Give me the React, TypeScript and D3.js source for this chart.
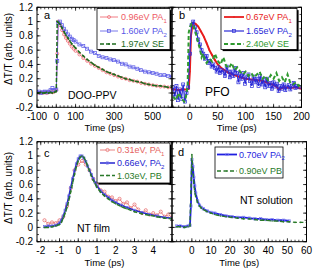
import React from 'react';
import * as d3 from 'd3';

const FONT = "'Liberation Sans', Arial, Helvetica, sans-serif";

// ---------- Panel a: DOO-PPV ----------
const aTime = [-100,-90,-80,-70,-60,-50,-40,-30,-20,-10,0,5,10,20,30,40,50,60,70,80,90,100,120,140,160,180,200,220,240,260,280,300,320,340,360,380,400,420,440,460,480,500,520,540,560,580,600];
const aRed = [0.01,0.0,0.01,0.0,0.01,0.0,0.01,0.02,0.01,0.02,0.04,0.55,1.0,0.95,0.88,0.82,0.77,0.73,0.69,0.65,0.62,0.59,0.54,0.49,0.45,0.41,0.38,0.35,0.32,0.29,0.27,0.25,0.23,0.21,0.2,0.18,0.17,0.16,0.14,0.13,0.12,0.11,0.1,0.09,0.09,0.08,0.07];
const aGreen = [0.0,0.0,0.01,0.0,0.0,0.01,0.0,0.01,0.0,0.01,0.02,1.0,0.99,0.96,0.91,0.86,0.81,0.77,0.73,0.69,0.66,0.63,0.57,0.52,0.47,0.43,0.39,0.36,0.33,0.3,0.28,0.26,0.24,0.22,0.2,0.19,0.17,0.16,0.15,0.13,0.12,0.11,0.1,0.1,0.09,0.08,0.08];
const aBlue = [0.01,0.02,0.0,0.01,0.02,0.01,0.02,0.04,0.07,0.04,0.05,0.45,0.98,1.0,0.95,0.9,0.86,0.82,0.79,0.76,0.74,0.72,0.68,0.66,0.62,0.58,0.56,0.52,0.5,0.49,0.47,0.46,0.44,0.41,0.4,0.37,0.36,0.34,0.32,0.3,0.29,0.28,0.27,0.25,0.25,0.24,0.23];

// ---------- Panel b: PFO ----------
const bRedTime = [-30,-25,-20,-15,-10,-5,-2,0,2,5,10,15,20,25,30,35,40,45,50,55,60,70,80,90,100,110,120,130,140,150,155,160,165,170,180,190,200];
const bRed = [0.05,0.05,0.04,0.05,0.05,0.05,0.06,0.3,0.8,0.98,0.97,0.93,0.86,0.79,0.7,0.6,0.53,0.46,0.4,0.36,0.33,0.28,0.25,0.22,0.2,0.19,0.18,0.17,0.14,0.11,0.09,0.05,0.07,0.08,0.07,0.08,0.06];
const bBlueTime = [-30,-27,-24,-21,-18,-15,-12,-9,-6,-3,0,3,6,9,12,15,18,21,24,27,30,33,36,39,42,45,48,51,54,57,60,63,66,69,72,75,78,81,84,87,90,93,96,99,102,105,108,111,114,117,120,123,126,129,132,135,138,141,144,147,150,153,156,159,162,165,168,171,174,177,180,183,186,189,192,195];
const bBlue = [0.08,-0.05,0.1,-0.1,0.05,-0.08,0.12,-0.12,0.0,0.08,0.55,0.95,1.0,0.92,0.85,0.75,0.68,0.6,0.55,0.48,0.52,0.42,0.45,0.37,0.4,0.35,0.3,0.36,0.28,0.32,0.3,0.24,0.37,0.3,0.22,0.3,0.24,0.35,0.28,0.15,0.27,0.2,0.28,0.13,0.22,0.26,0.17,0.1,0.23,0.15,0.2,0.1,0.24,0.12,0.18,0.08,0.2,0.1,0.14,0.06,0.15,0.09,0.13,0.03,0.1,0.06,0.12,0.04,0.09,0.11,0.05,0.1,0.14,0.07,0.1,0.08];
const bGreenTime = [-30,-25,-20,-15,-10,-7,-4,-2,0,3,6,9,12,15,18,21,24,27,30,35,40,45,50,55,60,65,70,75,80,85,90,95,100,105,110,115,120,125,130,135,140,145,150,155,160,165,170,175,180,185,190,195,200];
const bGreen = [-0.05,-0.1,0.0,-0.08,-0.12,-0.05,0.1,0.85,0.92,0.97,0.95,0.88,0.8,0.7,0.62,0.5,0.55,0.46,0.42,0.48,0.44,0.55,0.45,0.4,0.5,0.38,0.35,0.42,0.32,0.36,0.3,0.26,0.3,0.24,0.28,0.22,0.26,0.3,0.2,0.24,0.18,0.25,0.2,0.28,0.17,0.22,0.15,0.26,0.14,0.12,0.15,0.1,0.12];

// ---------- Panel c: NT film ----------
const cTime = [-1.8,-1.6,-1.4,-1.2,-1.0,-0.9,-0.8,-0.7,-0.6,-0.5,-0.4,-0.3,-0.2,-0.1,0,0.1,0.2,0.3,0.4,0.5,0.6,0.7,0.8,0.9,1.0,1.2,1.4,1.6,1.8,2.0,2.3,2.6,3.0,3.4,3.8,4.2,4.6,5.0];
const cGreen = [0.0,0.0,0.01,0.02,0.04,0.07,0.13,0.2,0.28,0.38,0.5,0.62,0.74,0.85,0.93,0.98,1.0,0.98,0.93,0.86,0.79,0.72,0.66,0.61,0.56,0.49,0.44,0.4,0.36,0.33,0.29,0.26,0.22,0.19,0.17,0.15,0.13,0.12];
const cBlue = [0.01,0.02,0.02,0.03,0.06,0.1,0.16,0.24,0.33,0.44,0.56,0.68,0.79,0.89,0.96,1.0,1.0,0.97,0.92,0.86,0.8,0.74,0.68,0.63,0.58,0.51,0.46,0.42,0.38,0.35,0.31,0.28,0.24,0.21,0.18,0.16,0.14,0.13];
const cRedTime = [-1.8,-1.6,-1.4,-1.2,-1.0,-0.8,-0.6,-0.4,-0.2,0,0.2,0.4,0.6,0.8,1.0,1.2,1.4,1.6,1.8,2.0,2.2,2.4,2.6,2.8,3.0,3.2,3.4,3.6,3.8,4.0,4.2,4.4,4.6,4.8,5.0];
const cRed = [0.1,0.05,0.07,0.06,0.1,0.15,0.3,0.55,0.8,0.88,0.93,0.88,0.8,0.68,0.6,0.52,0.5,0.43,0.42,0.37,0.4,0.33,0.35,0.27,0.32,0.25,0.2,0.24,0.18,0.2,0.17,0.22,0.15,0.18,0.14];

// ---------- Panel d: NT solution ----------
const dBlueTime = [-8,-6,-4,-2,-1,-0.5,0,0.5,1,1.5,2,3,4,5,6,8,10,12,15,18,21,24,27,30,33,36,39,42,45,48,51];
const dBlue = [0.02,0.02,0.01,0.02,0.03,0.3,0.95,0.85,0.7,0.58,0.48,0.37,0.31,0.28,0.26,0.23,0.21,0.2,0.18,0.16,0.15,0.14,0.14,0.13,0.12,0.12,0.11,0.11,0.1,0.1,0.09];
const dGreenTime = [-8,-6,-4,-2,-1,-0.5,0,0.5,1,1.5,2,3,4,5,6,8,10,12,15,18,21,24,27,30,33,36,39,42,45,48,51,54,57,60];
const dGreen = [0.01,0.01,0.0,0.01,0.02,0.5,1.02,0.8,0.62,0.5,0.43,0.35,0.3,0.27,0.25,0.22,0.2,0.18,0.16,0.15,0.14,0.13,0.12,0.12,0.11,0.1,0.1,0.09,0.09,0.08,0.08,0.07,0.07,0.07];

// ---------- ticks ----------
const yDomain: [number, number] = [-0.2, 1.2];
const yMajor = [-0.2, 0, 0.2, 0.4, 0.6, 0.8, 1.0, 1.2];
const yLabels = ['-0.2', '0', '0.2', '0.4', '0.6', '0.8', '1', '1.2'];
const aXMajor = [-100, 0, 100, 200, 300, 400, 500, 600];
const aXLabels = ['-100', '0', '100', '', '300', '', '500', ''];
const bXMajor = [0, 50, 100, 150, 200];
const bXLabels = ['0', '50', '100', '150', '200'];
const cXMajor = [-2, -1, 0, 1, 2, 3, 4, 5];
const cXLabels = ['-2', '-1', '0', '1', '2', '3', '4', ''];
const dXMajor = [0, 10, 20, 30, 40, 50, 60];
const dXLabels = ['0', '10', '20', '30', '40', '50', '60'];

type Marker = 'circle' | 'square' | 'dot' | 'none';
type Series = { x: number[]; y: number[]; color: string; width: number; dash?: string; marker: Marker; ms?: number; mColor?: string };
type LegendEntry = { label: string; sub?: string; s: Series };

function MarkerShape({ m, cx, cy, color, ms }: { m: Marker; cx: number; cy: number; color: string; ms: number }) {
  if (m === 'circle') return <circle cx={cx} cy={cy} r={ms} fill="white" fillOpacity={0.4} stroke={color} strokeWidth={0.7} />;
  if (m === 'square') return <rect x={cx - ms} y={cy - ms} width={ms * 2} height={ms * 2} fill="none" stroke={color} strokeWidth={0.7} />;
  if (m === 'dot') return <circle cx={cx} cy={cy} r={ms} fill={color} />;
  return null;
}

type PanelProps = {
  id: string; x0: number; x1: number; y0: number; y1: number;
  xDomain: [number, number]; xMajor: number[]; xLabels: string[]; xMinor: number;
  showY: boolean; series: Series[]; letter: string; lx: number; ly: number;
};

function Panel(p: PanelProps) {
  const xs = d3.scaleLinear().domain(p.xDomain).range([p.x0, p.x1]);
  const ys = d3.scaleLinear().domain(yDomain).range([p.y1, p.y0]);
  const minorX = d3.range(Math.ceil(p.xDomain[0] / p.xMinor) * p.xMinor, p.xDomain[1] + 1e-9, p.xMinor);
  const minorY = d3.range(-0.2, 1.2001, 0.1);
  const M = 3.5, m = 2;
  const ticks: JSX.Element[] = [];
  minorX.forEach((v, i) => {
    const X = xs(v);
    ticks.push(<line key={'mxb' + i} x1={X} x2={X} y1={p.y1} y2={p.y1 - m} />);
    ticks.push(<line key={'mxt' + i} x1={X} x2={X} y1={p.y0} y2={p.y0 + m} />);
  });
  p.xMajor.forEach((v, i) => {
    const X = xs(v);
    ticks.push(<line key={'Mxb' + i} x1={X} x2={X} y1={p.y1} y2={p.y1 - M} />);
    ticks.push(<line key={'Mxt' + i} x1={X} x2={X} y1={p.y0} y2={p.y0 + M} />);
  });
  minorY.forEach((v, i) => {
    const Y = ys(v);
    ticks.push(<line key={'myl' + i} x1={p.x0} x2={p.x0 + m} y1={Y} y2={Y} />);
    ticks.push(<line key={'myr' + i} x1={p.x1} x2={p.x1 - m} y1={Y} y2={Y} />);
  });
  yMajor.forEach((v, i) => {
    const Y = ys(v);
    ticks.push(<line key={'Myl' + i} x1={p.x0} x2={p.x0 + M} y1={Y} y2={Y} />);
    ticks.push(<line key={'Myr' + i} x1={p.x1} x2={p.x1 - M} y1={Y} y2={Y} />);
  });
  const lineGen = (s: Series) =>
    d3.line<number>().x((_, i) => xs(s.x[i])).y((d) => ys(d))(s.y) || '';
  return (
    <g>
      <defs>
        <clipPath id={'clip' + p.id}>
          <rect x={p.x0} y={p.y0} width={p.x1 - p.x0} height={p.y1 - p.y0} />
        </clipPath>
      </defs>
      <g clipPath={`url(#clip${p.id})`}>
        {p.series.map((s, k) => (
          <g key={k}>
            <path d={lineGen(s)} fill="none" stroke={s.color} strokeWidth={s.width} strokeDasharray={s.dash} />
            {s.marker !== 'none' && s.y.map((v, i) => (
              <MarkerShape key={i} m={s.marker} cx={xs(s.x[i])} cy={ys(v)} color={s.mColor || s.color} ms={s.ms || 1.5} />
            ))}
          </g>
        ))}
      </g>
      <g stroke="#000" strokeWidth={0.7}>{ticks}</g>
      <rect x={p.x0} y={p.y0} width={p.x1 - p.x0} height={p.y1 - p.y0} fill="none" stroke="#000" strokeWidth={1} />
      <g fontFamily={FONT} fontSize={10} fill="#000" textAnchor="middle">
        {p.xMajor.map((v, i) => p.xLabels[i] ? (
          <text key={i} x={xs(v)} y={p.y1 + 12.5}>{p.xLabels[i]}</text>
        ) : null)}
      </g>
      {p.showY && (
        <g fontFamily={FONT} fontSize={10} fill="#000" textAnchor="end">
          {yMajor.map((v, i) => (
            <text key={i} x={p.x0 - 4} y={ys(v) + 3.5}>{yLabels[i]}</text>
          ))}
        </g>
      )}
      <text x={(p.x0 + p.x1) / 2} y={p.y1 + 24} fontFamily={FONT} fontSize={9.5} textAnchor="middle">Time (ps)</text>
      <text x={p.lx} y={p.ly} fontFamily={FONT} fontSize={11}>{p.letter}</text>
    </g>
  );
}

function Legend({ x, y, w, h, entries, rows, lineX0, lineX1, textX, shadow }: { x: number; y: number; w: number; h: number; entries: LegendEntry[]; rows: number[]; lineX0: number; lineX1: number; textX: number; shadow: boolean }) {
  return (
    <g>
      {shadow && <rect x={x + 1.6} y={y + 1.6} width={w} height={h} fill="#000" />}
      <rect x={x} y={y} width={w} height={h} fill="#fff" stroke="#000" strokeWidth={0.8} />
      {entries.map((e, i) => {
        const cy = rows[i];
        const mx = (lineX0 + lineX1) / 2;
        return (
          <g key={i}>
            <line x1={lineX0} x2={lineX1} y1={cy} y2={cy} stroke={e.s.color} strokeWidth={Math.min(e.s.width, 1.8)} strokeDasharray={e.s.dash} />
            <MarkerShape m={e.s.marker} cx={mx} cy={cy} color={e.s.mColor || e.s.color} ms={e.s.ms || 1.5} />
            <text x={textX} y={cy + 3.2} fontFamily={FONT} fontSize={9} fill={e.s.color}>
              {e.label}
              {e.sub && <tspan fontSize={6} dy={2.5}>{e.sub}</tspan>}
            </text>
          </g>
        );
      })}
    </g>
  );
}

export default function App() {
  const sa: Series[] = [
    { x: aTime, y: aRed, color: '#ee5a64', width: 0.8, marker: 'circle', ms: 1.5 },
    { x: aTime, y: aBlue, color: '#5656e6', width: 0.8, marker: 'square', ms: 1.5 },
    { x: aTime, y: aGreen, color: '#1d6b1d', width: 1.5, dash: '4,2', marker: 'dot', ms: 0.9 },
  ];
  const sb: Series[] = [
    { x: bRedTime, y: bRed, color: '#e81c1c', width: 2, marker: 'dot', ms: 0.8 },
    { x: bBlueTime, y: bBlue, color: '#2a2ad8', width: 1.2, marker: 'square', ms: 1.5 },
    { x: bGreenTime, y: bGreen, color: '#2f9a2f', width: 2, dash: '4,2.5', marker: 'none' },
  ];
  const sc: Series[] = [
    { x: cRedTime, y: cRed, color: '#e56262', width: 0.8, marker: 'circle', ms: 1.6 },
    { x: cTime, y: cBlue, color: '#2525d0', width: 1.5, marker: 'square', ms: 1.1, mColor: '#6a6ae8' },
    { x: cTime, y: cGreen, color: '#2a7a2a', width: 1.5, dash: '4,2', marker: 'dot', ms: 0.8 },
  ];
  const sd: Series[] = [
    { x: dBlueTime, y: dBlue, color: '#1f1fe0', width: 1.8, marker: 'square', ms: 1.2, mColor: '#8080f0' },
    { x: dGreenTime, y: dGreen, color: '#2a7a2a', width: 1.4, dash: '4,2.5', marker: 'dot', ms: 0.8 },
  ];
  return (
    <svg width={317} height={272} style={{ display: 'block', position: 'absolute', left: 0, top: 0, background: '#fff' }}>
      <rect width={317} height={272} fill="#fff" />
      <Panel id="a" x0={37} x1={172} y0={7.3} y1={107.3} xDomain={[-100, 600]} xMajor={aXMajor} xLabels={aXLabels} xMinor={20} showY series={sa} letter="a" lx={44} ly={19} />
      <Panel id="b" x0={172} x1={301.5} y0={7.3} y1={107.3} xDomain={[-32, 200]} xMajor={bXMajor} xLabels={bXLabels} xMinor={10} showY={false} series={sb} letter="b" lx={179} ly={19} />
      <Panel id="c" x0={37} x1={172} y0={141.7} y1={241.7} xDomain={[-2.2, 5]} xMajor={cXMajor} xLabels={cXLabels} xMinor={0.2} showY series={sc} letter="c" lx={44} ly={157} />
      <Panel id="d" x0={172} x1={306.5} y0={141.7} y1={241.7} xDomain={[-10.4, 60]} xMajor={dXMajor} xLabels={dXLabels} xMinor={2} showY={false} series={sd} letter="d" lx={178} ly={156} />

      <text transform="translate(12,49) rotate(-90)" fontFamily={FONT} fontSize={10} textAnchor="middle">ΔT/T (arb. units)</text>
      <text transform="translate(12,188) rotate(-90)" fontFamily={FONT} fontSize={10} textAnchor="middle">ΔT/T (arb. units)</text>

      <text x={68} y={99} fontFamily={FONT} fontSize={10.5}>DOO-PPV</text>
      <text x={205} y={96} fontFamily={FONT} fontSize={12}>PFO</text>
      <text x={77} y={232} fontFamily={FONT} fontSize={10.5}>NT film</text>
      <text x={240} y={204} fontFamily={FONT} fontSize={10.5}>NT solution</text>

      <Legend x={97} y={8.5} w={73} h={41} shadow rows={[17, 31, 44]} lineX0={100} lineX1={118} textX={121}
        entries={[
          { label: '0.96eV PA', sub: '1', s: sa[0] },
          { label: '1.60eV PA', sub: '2', s: sa[1] },
          { label: '1.97eV SE', s: sa[2] },
        ]} />
      <Legend x={221} y={8.5} w={76} h={41} shadow rows={[17, 31, 44]} lineX0={224} lineX1={244} textX={246}
        entries={[
          { label: '0.67eV PA', sub: '1', s: sb[0] },
          { label: '1.65eV PA', sub: '2', s: sb[1] },
          { label: '2.40eV SE', s: { ...sb[2], marker: 'dot', ms: 0.8 } },
        ]} />
      <Legend x={97} y={143} w={73} h={40} shadow rows={[150, 163, 175.5]} lineX0={100} lineX1={115} textX={117}
        entries={[
          { label: '0.31eV, PA', sub: '1', s: sc[0] },
          { label: '0.66eV, PA', sub: '2', s: sc[1] },
          { label: '1.03eV, PB', s: sc[2] },
        ]} />
      <Legend x={215} y={147} w={68} h={31} shadow={false} rows={[154.5, 171]} lineX0={217} lineX1={237} textX={239}
        entries={[
          { label: '0.70eV PA', sub: '2', s: sd[0] },
          { label: '0.90eV PB', s: sd[1] },
        ]} />
    </svg>
  );
}
